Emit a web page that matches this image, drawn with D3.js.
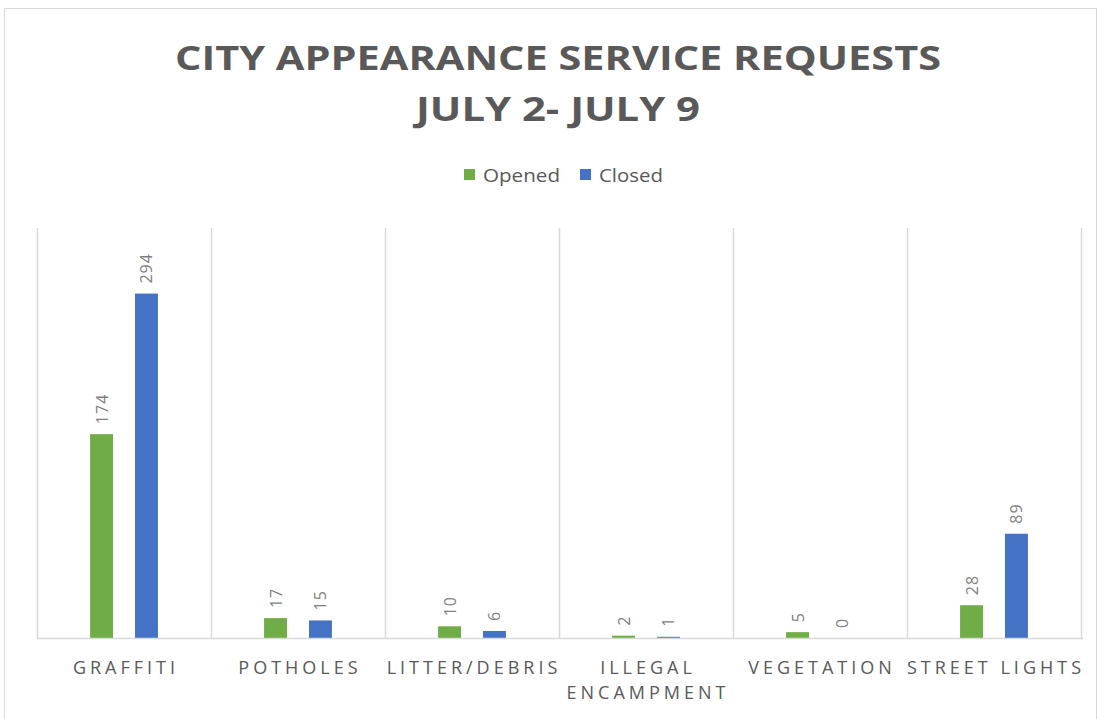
<!DOCTYPE html>
<html>
<head>
<meta charset="utf-8">
<script src="https://cdn.jsdelivr.net/npm/d3@7"></script>
<style>
  html, body { margin: 0; padding: 0; background: #fff; }
  svg { display: block; }
</style>
</head>
<body>
<svg id="chart" width="1101" height="719"></svg>
<script>
const categories = ["GRAFFITI", "POTHOLES", "LITTER/DEBRIS", "ILLEGAL ENCAMPMENT", "VEGETATION", "STREET LIGHTS"];
const categoryLines = [["GRAFFITI"], ["POTHOLES"], ["LITTER/DEBRIS"], ["ILLEGAL", "ENCAMPMENT"], ["VEGETATION"], ["STREET LIGHTS"]];
const seriesNames = ["Opened", "Closed"];
const opened = [174, 17, 10, 2, 5, 28];
const closed = [294, 15, 6, 1, 0, 89];
const seriesColors = ["#70ad47", "#4472c4"];
const titleLines = ["CITY APPEARANCE SERVICE REQUESTS", "JULY 2- JULY 9"];
const yMax = 350;

const svg = d3.select("#chart");
const plot = { left: 37, right: 1081, top: 228, bottom: 638 };

// chart border
svg.append("rect")
  .attr("x", 4.5).attr("y", 8.5).attr("width", 1092).attr("height", 720)
  .attr("fill", "#fff").attr("stroke", "#d9d9d9").attr("stroke-width", 1);

// title
const title = svg.append("g").attr("font-family", "'Open Sans', sans-serif")
  .attr("font-weight", "bold").attr("fill", "#595959").attr("text-anchor", "middle");
title.append("text").attr("x", 558).attr("y", 70).attr("font-size", 34)
  .attr("textLength", 766).attr("lengthAdjust", "spacingAndGlyphs").text(titleLines[0]);
title.append("text").attr("x", 558).attr("y", 121).attr("font-size", 34)
  .attr("textLength", 284).attr("lengthAdjust", "spacingAndGlyphs").text(titleLines[1]);

// legend
const legendItems = [
  { name: seriesNames[0], color: seriesColors[0], x: 464 },
  { name: seriesNames[1], color: seriesColors[1], x: 580 }
];
const lg = svg.append("g").attr("font-family", "'Open Sans', sans-serif").attr("font-size", 19).attr("fill", "#595959");
legendItems.forEach(d => {
  lg.append("rect").attr("x", d.x).attr("y", 169).attr("width", 11).attr("height", 11).attr("fill", d.color);
  lg.append("text").attr("x", d.x + 19).attr("y", 182).attr("textLength", d.name === "Opened" ? 77 : 64)
    .attr("lengthAdjust", "spacingAndGlyphs").text(d.name);
});

// scales
const x0 = d3.scaleBand().domain(categories).range([plot.left, plot.right]).paddingInner(0).paddingOuter(0);
const bw = x0.bandwidth();
const x1 = d3.scaleBand().domain(seriesNames).range([bw * 0.305, bw * 0.695]).paddingInner(0.489).paddingOuter(0);
const y = d3.scaleLinear().domain([0, yMax]).range([plot.bottom, plot.top]);

// vertical separators
const seps = categories.map(c => x0(c)).concat([plot.right]);
svg.append("g").selectAll("line").data(seps).join("line")
  .attr("x1", d => Math.round(d) + 0.5).attr("x2", d => Math.round(d) + 0.5)
  .attr("y1", plot.top).attr("y2", plot.bottom)
  .attr("stroke", "#d9d9d9").attr("stroke-width", 1.5);

// data
const data = categories.map((c, i) => ({ cat: c, values: [
  { s: seriesNames[0], v: opened[i], color: seriesColors[0] },
  { s: seriesNames[1], v: closed[i], color: seriesColors[1] }
]}));

const groups = svg.append("g").selectAll("g").data(data).join("g")
  .attr("transform", d => `translate(${x0(d.cat)},0)`);

groups.selectAll("rect").data(d => d.values).join("rect")
  .attr("x", d => x1(d.s)).attr("width", x1.bandwidth())
  .attr("y", d => y(d.v)).attr("height", d => plot.bottom - y(d.v))
  .attr("fill", d => d.color);

groups.selectAll("text").data(d => d.values).join("text")
  .attr("transform", d => `translate(${x1(d.s) + x1.bandwidth() / 2 + 6},${y(d.v) - 10}) rotate(-90)`)
  .attr("font-family", "'Open Sans', sans-serif").attr("font-size", 16).attr("fill", "#7f7f7f")
  .attr("letter-spacing", 1)
  .attr("text-anchor", "start")
  .text(d => d.v);

// baseline
svg.append("line").attr("x1", plot.left).attr("x2", plot.right + 2)
  .attr("y1", plot.bottom + 0.5).attr("y2", plot.bottom + 0.5)
  .attr("stroke", "#d9d9d9").attr("stroke-width", 1.5);

// category labels
const labels = svg.append("g").attr("font-family", "'Open Sans', sans-serif").attr("font-size", 18)
  .attr("fill", "#595959").attr("text-anchor", "middle").attr("letter-spacing", 4);
categories.forEach((c, i) => {
  const cx = x0(c) + bw / 2 + 2;
  categoryLines[i].forEach((line, j) => {
    labels.append("text").attr("x", cx).attr("y", 674 + j * 25).text(line);
  });
});
</script>
</body>
</html>
